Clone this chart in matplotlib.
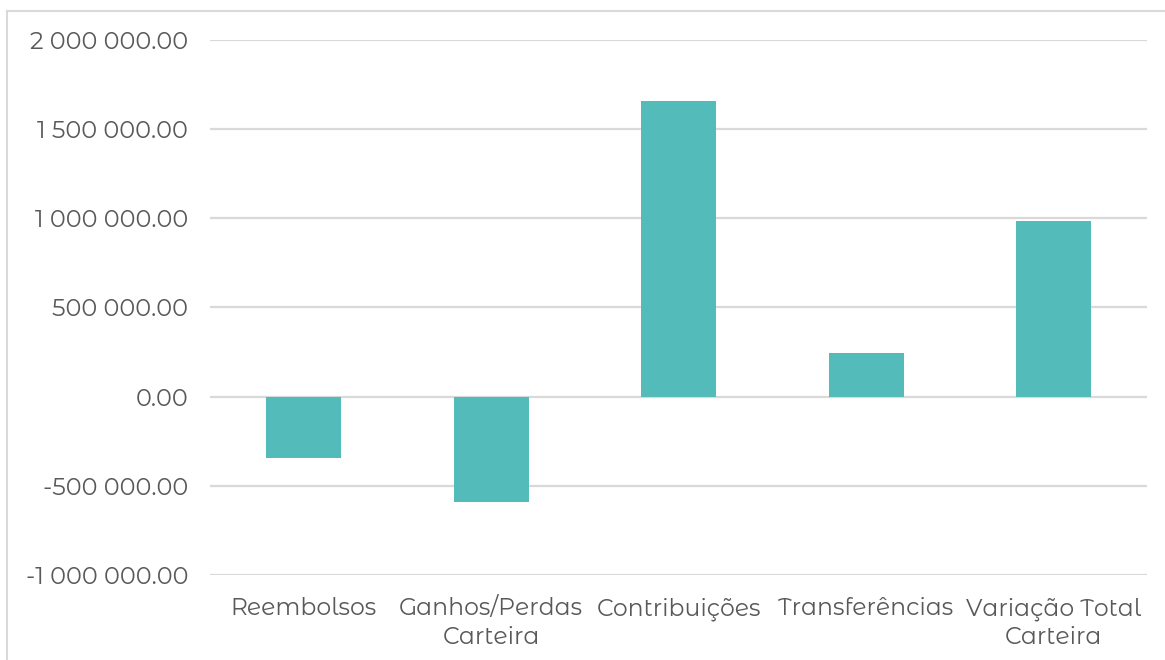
import matplotlib
matplotlib.use("Agg")
import matplotlib.pyplot as plt
from matplotlib.lines import Line2D
from matplotlib.ticker import FuncFormatter, MultipleLocator

categories = ["Reembolsos", "Ganhos/Perdas\nCarteira", "Contribuições",
              "Transferências", "Variação Total\nCarteira"]
values = [-342000, -589000, 1658000, 245000, 985000]

bar_color = "#53BBB9"
text_color = "#595959"
grid_color = "#D9D9D9"

plt.rcParams['font.family'] = ['Montserrat Alternates', 'DejaVu Sans']

W, H = 1165, 660
fig = plt.figure(figsize=(W / 100, H / 100), dpi=100)
ax = fig.add_axes([209.75 / W, 1 - 575 / H, (1147.25 - 209.75) / W, (575 - 40) / H])

x = list(range(len(categories)))
ax.bar(x, values, width=0.4, color=bar_color, zorder=3)

ax.set_xlim(-0.5, len(categories) - 0.5)
ax.set_ylim(-1000000, 2000000)
ax.yaxis.set_major_locator(MultipleLocator(500000))


def fmt(v, pos):
    s = f"{abs(v):,.2f}".replace(",", " ")
    return ("-" if v < 0 else "") + s


ax.yaxis.set_major_formatter(FuncFormatter(fmt))
ax.grid(axis="y", color=grid_color, linewidth=1.6, zorder=0)
for sp in ax.spines.values():
    sp.set_visible(False)
ax.tick_params(axis="y", length=0, colors=text_color, labelsize=17.3, pad=15.5)
ax.tick_params(axis="x", length=0, colors=text_color, labelsize=16.9, pad=16)
ax.set_xticks(x)
ax.set_xticklabels(categories, linespacing=1.32)
for lbl in ax.get_xticklabels() + ax.get_yticklabels():
    lbl.set_color(text_color)

# chart frame
fig.add_artist(Line2D([7 / W, 1], [1 - 11 / H, 1 - 11 / H], transform=fig.transFigure,
                      color=grid_color, linewidth=1.5))
fig.add_artist(Line2D([7 / W, 7 / W], [0, 1 - 11 / H], transform=fig.transFigure,
                      color=grid_color, linewidth=1.5))

fig.savefig("out.png", dpi=100, facecolor="white")
